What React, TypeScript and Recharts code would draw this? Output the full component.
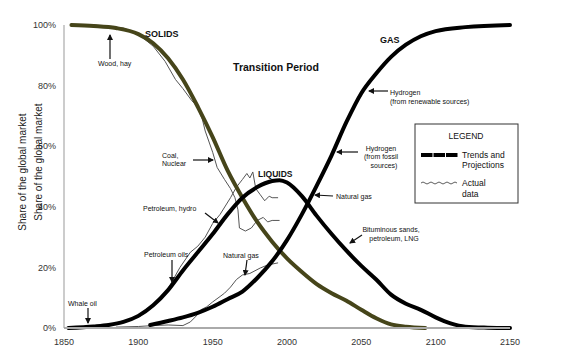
import React from 'react'
import { LineChart, Line, XAxis, YAxis } from 'recharts'

// years on x, share (%) on y
const xTicks = [1850, 1900, 1950, 2000, 2050, 2100, 2150]
const yTicks = [0, 20, 40, 60, 80, 100]

// trends and projections (thick lines)
const solidsYears = [1855, 1870, 1885, 1900, 1910, 1920, 1930, 1940, 1950, 1960, 1970, 1980, 1990, 2000, 2010, 2020, 2030, 2040, 2050, 2060, 2070, 2080, 2093]
const solidsShare = [100, 99.7, 99, 97, 94, 89, 82, 73, 63, 52, 43, 35, 28.5, 23, 18.5, 14.5, 11.5, 9, 6, 3.2, 1.2, 0.4, 0]

const liquidsYears = [1853, 1870, 1880, 1890, 1900, 1910, 1920, 1930, 1940, 1950, 1960, 1970, 1980, 1990, 1995, 2000, 2010, 2020, 2030, 2040, 2050, 2060, 2070, 2080, 2090, 2100, 2110, 2120, 2135, 2150]
const liquidsShare = [0, 0.5, 1, 2, 4, 7.5, 12.5, 19, 25, 31, 37.5, 43, 46.5, 48.5, 48.8, 48, 43.5, 37, 31, 25.5, 20.5, 16, 11, 8, 6, 3.5, 1.5, 0.4, 0.1, 0]

const gasYears = [1908, 1920, 1930, 1940, 1950, 1960, 1970, 1980, 1990, 2000, 2010, 2020, 2030, 2040, 2050, 2060, 2070, 2080, 2090, 2100, 2120, 2150]
const gasShare = [1, 2.3, 3.5, 5, 7, 9.5, 12, 16.5, 22, 29, 37.5, 47, 57, 68, 77.5, 84, 89.5, 93.5, 96.3, 98, 99.3, 100]

// actual data (thin lines)
const solidsActualYears = [1858, 1870, 1880, 1890, 1900, 1910, 1918, 1925, 1930, 1936, 1938, 1940, 1943, 1945, 1950, 1953, 1958, 1962, 1965, 1967, 1968, 1972, 1976, 1980, 1984, 1987, 1990, 1995]
const solidsActualShare = [100, 100, 99.5, 99, 97, 93, 88, 82, 79, 75, 74, 72.5, 69, 65, 58, 53, 49, 46, 43, 39, 33, 32, 33, 35.5, 36.5, 35, 35.5, 35.5]

const liquidsActualYears = [1860, 1880, 1900, 1910, 1920, 1928, 1935, 1940, 1945, 1950, 1955, 1962, 1966, 1970, 1973, 1975, 1977, 1979, 1982, 1985, 1988, 1990, 1994]
const liquidsActualShare = [0.3, 1, 3.5, 7, 13, 20, 25, 27, 30, 34.5, 37.5, 43, 46.5, 49, 51, 49.5, 51.5, 46, 44, 42, 43.5, 43, 43]

const gasActualYears = [1885, 1900, 1910, 1920, 1930, 1935, 1939, 1942, 1946, 1950, 1955, 1958, 1962, 1966, 1970, 1975, 1982, 1987, 1994]
const gasActualShare = [0.3, 0.5, 0.8, 1, 0.8, 2, 4, 6, 7, 8.6, 10.4, 11.5, 13.5, 16, 17.5, 18, 19.8, 20.8, 21.5]

const toRows = (years: number[], vals: number[]) => years.map((year, i) => ({ year, v: vals[i] }))

const FONT = '"Liberation Sans", Arial, sans-serif'

function Arrow({ x1, y1, x2, y2 }: { x1: number; y1: number; x2: number; y2: number }) {
  return <line x1={x1} y1={y1} x2={x2} y2={y2} stroke="#111" strokeWidth={1.2} markerEnd="url(#head)" />
}

function Label({ x, y, children, anchor = 'start', size = 7, bold = false }: any) {
  return (
    <text x={x} y={y} fontSize={size} fontWeight={bold ? 'bold' : 'normal'} textAnchor={anchor} fill="#111" fontFamily={FONT}>
      {children}
    </text>
  )
}

export default function App() {
  const thick = { type: 'monotone' as const, dataKey: 'v', dot: false, strokeWidth: 4, isAnimationActive: false, strokeLinecap: 'round' as const }
  const thin = { type: 'linear' as const, dataKey: 'v', dot: false, strokeWidth: 1, stroke: '#555', isAnimationActive: false }
  return (
    <div style={{ position: 'absolute', left: 0, top: 0, width: 580, height: 364, background: '#fff', fontFamily: FONT }}>
      <LineChart width={580} height={364} margin={{ top: 25, right: 70, bottom: 0, left: 0 }}>
        <XAxis
          dataKey="year"
          type="number"
          domain={[1850, 2150]}
          ticks={xTicks}
          allowDuplicatedCategory={false}
          height={36}
          tickLine={false}
          tickMargin={5}
          axisLine={{ stroke: '#aaa', strokeWidth: 2 }}
          tick={{ fontSize: 9, fill: '#333', fontFamily: FONT }}
        />
        <YAxis
          type="number"
          domain={[0, 100]}
          ticks={yTicks}
          width={64}
          tickLine={false}
          tickFormatter={(v: number) => `${v}%`}
          axisLine={{ stroke: '#999' }}
          tick={{ fontSize: 9, fill: '#333', fontFamily: FONT }}
        />
        <Line {...thin} data={toRows(solidsActualYears, solidsActualShare)} />
        <Line {...thin} data={toRows(liquidsActualYears, liquidsActualShare)} />
        <Line {...thin} data={toRows(gasActualYears, gasActualShare)} />
        <Line {...thick} data={toRows(solidsYears, solidsShare)} stroke="#46451a" />
        <Line {...thick} data={toRows(liquidsYears, liquidsShare)} stroke="#000" />
        <Line {...thick} data={toRows(gasYears, gasShare)} stroke="#000" />
      </LineChart>

      <svg width={580} height={364} style={{ position: 'absolute', left: 0, top: 0, pointerEvents: 'none' }}>
        <defs>
          <marker id="head" markerWidth="6" markerHeight="6" refX="5" refY="3" orient="auto" markerUnits="userSpaceOnUse">
            <path d="M0,0 L6,3 L0,6 Z" fill="#111" />
          </marker>
        </defs>

        <text transform="translate(26,172) rotate(-90)" fontSize={10} textAnchor="middle" fill="#222" fontFamily={FONT}>Share of the global market</text>
        <text transform="translate(42,162) rotate(-90)" fontSize={10} textAnchor="middle" fill="#222" fontFamily={FONT}>Share of the global market</text>

        <Label x={145} y={37} size={9} bold>SOLIDS</Label>
        <Label x={98} y={65.5}>Wood, hay</Label>
        <Arrow x1={110} y1={59} x2={110} y2={35} />

        <Label x={276} y={71} size={10.5} bold anchor="middle">Transition Period</Label>

        <Label x={380} y={43} size={9} bold>GAS</Label>
        <Label x={390} y={95}>Hydrogen</Label>
        <Label x={390} y={104}>(from renewable sources)</Label>
        <Arrow x1={388} y1={91} x2={369} y2={91} />

        <Label x={381} y={150.5} anchor="middle">Hydrogen</Label>
        <Label x={381} y={159} anchor="middle">(from fossil</Label>
        <Label x={384} y={168} anchor="middle">sources)</Label>
        <Arrow x1={358} y1={152} x2={337} y2={152} />

        <Label x={258} y={177} size={8.5} bold>LIQUIDS</Label>

        <Label x={162} y={157.5}>Coal,</Label>
        <Label x={162} y={165.5}>Nuclear</Label>
        <Arrow x1={193} y1={160} x2={213} y2={160} />

        <Label x={336} y={198.5}>Natural gas</Label>
        <Arrow x1={333} y1={196} x2={315} y2={195} />

        <Label x={143} y={210.5}>Petroleum, hydro</Label>
        <Arrow x1={205} y1={213} x2={218} y2={223} />

        <Label x={144} y={256.5}>Petroleum oils</Label>
        <Arrow x1={172} y1={260} x2={172} y2={282} />

        <Label x={223} y={257.5}>Natural gas</Label>
        <Arrow x1={247} y1={260} x2={245} y2={275} />

        <Label x={391} y={232} anchor="middle">Bituminous sands,</Label>
        <Label x={394} y={241} anchor="middle">petroleum, LNG</Label>
        <Arrow x1={362} y1={235} x2={350} y2={243} />

        <Label x={68} y={305.5}>Whale oil</Label>
        <Arrow x1={88} y1={308} x2={88} y2={323} />

        {/* legend */}
        <rect x={415} y={124} width={103} height={79} fill="#fff" stroke="#333" strokeWidth={1} />
        <Label x={466} y={139} size={8.5} anchor="middle">LEGEND</Label>
        <line x1={421} y1={155} x2={458} y2={155} stroke="#000" strokeWidth={4} strokeDasharray="11.5 1" />
        <Label x={462} y={158} size={8.5}>Trends and</Label>
        <Label x={462} y={168} size={8.5}>Projections</Label>
        <path d="M421,183 q2,-2 4,0 t4,0 t4,0 t4,0 t4,0 t4,0 t4,0 t4,0 t4,0" fill="none" stroke="#333" strokeWidth={0.8} />
        <Label x={462} y={186} size={8.5}>Actual</Label>
        <Label x={462} y={197} size={8.5}>data</Label>
      </svg>
    </div>
  )
}
